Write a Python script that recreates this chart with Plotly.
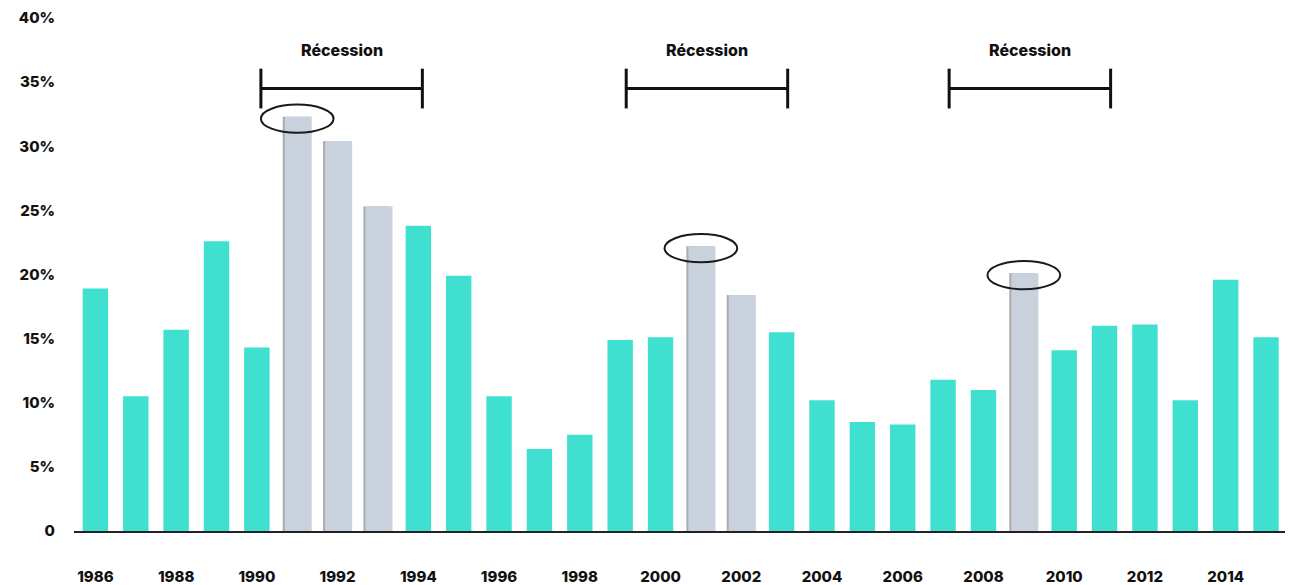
import plotly.graph_objects as go

# Annual rate (%) by year
years = list(range(1986, 2016))
rates = [18.9, 10.5, 15.7, 22.6, 14.3,
         32.3, 30.4, 25.3, 23.8, 19.9,
         10.5, 6.4, 7.5, 14.9, 15.1,
         22.2, 18.4, 15.5, 10.2, 8.5,
         8.3, 11.8, 11.0, 20.1, 14.1,
         16.0, 16.1, 10.2, 19.6, 15.1]

# Years shown in grey, and peak years circled
grey_years = [1991, 1992, 1993, 2001, 2002, 2009]
peak_years = [1991, 2001, 2009]

# Recession periods (start, end) drawn as brackets
recessions = [(1990.1, 1994.1), (1999.15, 2003.15), (2007.15, 2011.15)]
recession_label = "Récession"

x_ticks = list(range(1986, 2015, 2))
y_ticks = list(range(0, 41, 5))
y_ticktext = ["0"] + [f"{v}%" for v in y_ticks[1:]]

TEAL = "#40E0D0"
GREY = "#C9D1DC"
SHADOW = "#ABABAB"
INK = "#111111"
FONT = dict(family="Inter, 'Open Sans', sans-serif", size=15, color="#111111", weight=800)
LABEL_FONT = dict(FONT, size=16)

value_of = dict(zip(years, rates))
teal_x = [y for y in years if y not in grey_years]
teal_y = [value_of[y] for y in teal_x]
grey_x = [y for y in years if y in grey_years]
grey_y = [value_of[y] for y in grey_x]

fig = go.Figure()
fig.add_trace(go.Bar(x=teal_x, y=teal_y, width=0.63, marker=dict(color=TEAL, line=dict(width=0)),
                     hoverinfo="x+y"))
# thin shadow on the left edge of the grey bars
fig.add_trace(go.Bar(x=grey_x, y=grey_y, width=0.67, offset=-0.36,
                     marker=dict(color=SHADOW, line=dict(width=0)), hoverinfo="skip"))
fig.add_trace(go.Bar(x=grey_x, y=grey_y, width=0.67, offset=-0.31,
                     marker=dict(color=GREY, line=dict(width=0)), hoverinfo="x+y"))

shapes = []
annotations = []
for a, b in recessions:
    shapes.append(dict(type="line", xref="x", yref="y", x0=a, x1=b, y0=34.5, y1=34.5,
                       line=dict(color=INK, width=3)))
    for xe in (a, b):
        shapes.append(dict(type="line", xref="x", yref="y", x0=xe, x1=xe, y0=32.95, y1=36.05,
                           line=dict(color=INK, width=3)))
    annotations.append(dict(x=(a + b) / 2, y=37.5, xref="x", yref="y", text=recession_label,
                            showarrow=False, font=LABEL_FONT, xanchor="center", yanchor="middle"))

for yr in peak_years:
    v = value_of[yr]
    shapes.append(dict(type="circle", xref="x", yref="y", x0=yr - 0.9, x1=yr + 0.9,
                       y0=v - 1.25, y1=v + 0.95, line=dict(color="#1a1a1a", width=2),
                       fillcolor="rgba(0,0,0,0)", layer="above"))

fig.update_layout(
    width=1294, height=585,
    margin=dict(l=74, r=9, t=18, b=53.5, autoexpand=False),
    paper_bgcolor="white", plot_bgcolor="white",
    barmode="overlay", showlegend=False,
    shapes=shapes, annotations=annotations,
    font=FONT,
    xaxis=dict(range=[1985.47, 2015.47], tickvals=x_ticks, ticktext=[str(t) for t in x_ticks],
               showgrid=False, zeroline=False, showline=True, linecolor="#222222", linewidth=2,
               ticks="", ticklabelstandoff=31, tickfont=FONT, automargin=False, fixedrange=True),
    yaxis=dict(range=[0, 40], tickvals=y_ticks, ticktext=y_ticktext, showgrid=False,
               zeroline=False, showline=False, ticks="", ticklabelstandoff=18,
               tickfont=FONT, automargin=False, fixedrange=True),
)

fig.write_html("out.html", config={"displayModeBar": False})
